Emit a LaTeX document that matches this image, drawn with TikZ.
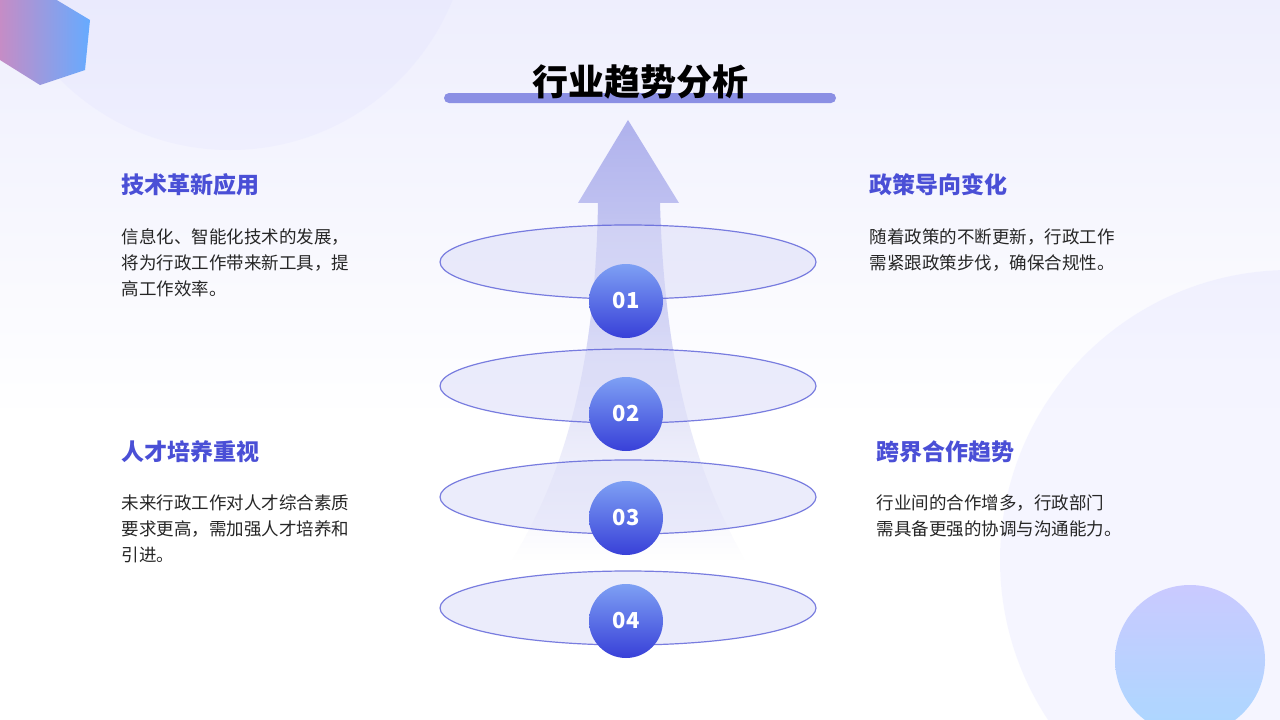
\documentclass[tikz,border=0pt]{standalone}
\usepackage{fontspec}
\newfontfamily\cjk{Noto Sans CJK SC}
\usetikzlibrary{shapes.geometric,fadings}
\definecolor{hblue}{HTML}{4A4FD6}
\definecolor{ellc}{HTML}{5A5FD8}
\definecolor{ellf}{HTML}{DCDDF8}
\definecolor{cdark}{HTML}{3840D8}
\definecolor{clight}{HTML}{7EA0F4}
\tikzfading[name=fadedown,top color=transparent!0,bottom color=transparent!100]
\tikzset{
  heading/.style={anchor=west,font=\cjk\bfseries\fontsize{23}{26}\selectfont,text=hblue},
  body/.style={anchor=north west,font=\cjk\fontsize{17.5}{26}\selectfont,text=black!85,align=left},
  disc/.style={draw=ellc,line width=1.2pt,fill=ellf,fill opacity=0.55,draw opacity=0.8},
  num/.style={circle,minimum size=74pt,inner sep=0pt,shading=axis,top color=clight,bottom color=cdark,text=white,font=\cjk\bfseries\fontsize{22}{24}\selectfont}
}
\begin{document}
\begin{tikzpicture}[x=1pt,y=-1pt]
\useasboundingbox (0,0) rectangle (1280,720);
\shade[top color=ellf!90!blue!30,bottom color=white] (0,0) rectangle (1280,420);
\fill[white] (0,420) rectangle (1280,720);
\fill[blue!15,opacity=0.18] (230,-90) circle (240);
\fill[blue!20,opacity=0.18] (1290,560) circle (290);
\shade[top color=blue!25!white,bottom color=blue!45!cyan!40,opacity=0.8] (1190,660) circle (75);
\shade[left color=violet!45,right color=blue!55!cyan!60] (40,-10) -- (90,20) -- (85,70) -- (40,85) -- (0,60) -- (0,0) -- cycle;
% title
\fill[ellc!70,rounded corners=5pt] (444,93) rectangle (836,103);
\node (title) at (640,82) {\cjk\bfseries\fontsize{36}{40}\selectfont 行业趋势分析};
% arrow
\fill[ellc!75,opacity=0.6,path fading=fadedown] (628,120) -- (679,203) -- (660,203) .. controls (665,380) and (700,480) .. (745,560) -- (512,560) .. controls (560,480) and (595,380) .. (598,203) -- (578,203) -- cycle;
% discs
\foreach \y in {608,497,386,262}{
  \draw[disc] (628,\y) ellipse (188 and 37);
}
\foreach \y/\n in {301/01,414/02,518/03,621/04}{
  \node[num] (n\n) at (626,\y) {\n};
}
% text
\node[heading] (h1) at (118,185) {技术革新应用};
\node[body] (b1) at (118,225) {信息化、智能化技术的发展，\\将为行政工作带来新工具，提\\高工作效率。};
\node[heading] (h2) at (118,452) {人才培养重视};
\node[body] (b2) at (118,491) {未来行政工作对人才综合素质\\要求更高，需加强人才培养和\\引进。};
\node[heading] (h3) at (866,185) {政策导向变化};
\node[body] (b3) at (866,225) {随着政策的不断更新，行政工作\\需紧跟政策步伐，确保合规性。};
\node[heading] (h4) at (873,452) {跨界合作趋势};
\node[body] (b4) at (873,491) {行业间的合作增多，行政部门\\需具备更强的协调与沟通能力。};
\end{tikzpicture}
\end{document}
